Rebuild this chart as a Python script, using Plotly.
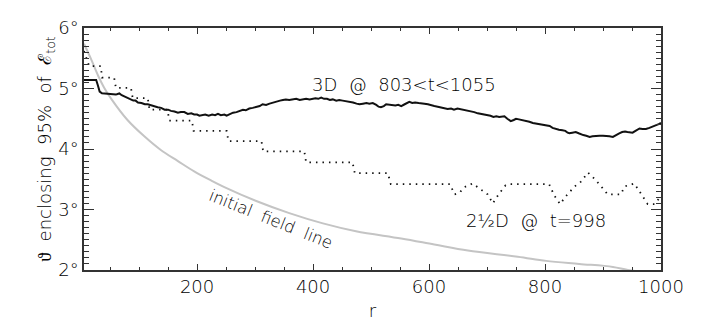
import plotly.graph_objects as go

# 3D @ 803<t<1055 (solid)
r_3d = [5, 26, 29, 32, 36, 44, 52, 60, 63, 66,
        70, 75, 80, 85, 90, 94, 98, 104, 110, 115,
        121, 127, 132, 138, 144, 150, 155, 161, 167, 172,
        178, 184, 190, 195, 200, 204, 209, 214, 220, 226,
        231, 236, 241, 247, 251, 256, 262, 268, 273, 279,
        284, 290, 296, 302, 308, 313, 319, 325, 331, 337,
        343, 348, 353, 359, 365, 371, 377, 382, 388, 394,
        399, 404, 409, 414, 419, 424, 429, 434, 440, 445,
        451, 457, 463, 469, 475, 480, 486, 492, 497, 503,
        509, 513, 517, 522, 526, 531, 537, 542, 547, 552,
        558, 563, 566, 571, 576, 582, 587, 592, 598, 604,
        609, 615, 621, 626, 632, 638, 643, 649, 655, 661,
        667, 672, 678, 684, 690, 695, 701, 706, 711, 716,
        721, 726, 730, 735, 741, 746, 750, 755, 761, 768,
        773, 779, 785, 791, 797, 802, 808, 813, 819, 824,
        830, 835, 839, 842, 847, 853, 858, 862, 866, 871,
        877, 882, 888, 894, 900, 905, 911, 917, 922, 928,
        933, 938, 942, 947, 951, 956, 960, 963, 968, 974,
        980, 986, 991, 996, 1000]
th_3d = [5.14, 5.14, 5.05, 4.95, 4.92, 4.91, 4.91, 4.90, 4.91, 4.92,
         4.89, 4.87, 4.84, 4.83, 4.80, 4.80, 4.77, 4.76, 4.74, 4.74,
         4.72, 4.71, 4.69, 4.68, 4.65, 4.65, 4.63, 4.62, 4.60, 4.61,
         4.61, 4.58, 4.59, 4.57, 4.57, 4.55, 4.56, 4.57, 4.55, 4.57,
         4.56, 4.58, 4.56, 4.57, 4.55, 4.57, 4.60, 4.61, 4.63, 4.65,
         4.64, 4.67, 4.68, 4.69, 4.71, 4.74, 4.73, 4.75, 4.77, 4.78,
         4.80, 4.81, 4.82, 4.81, 4.82, 4.83, 4.81, 4.82, 4.83, 4.82,
         4.83, 4.84, 4.83, 4.85, 4.83, 4.83, 4.81, 4.82, 4.80, 4.81,
         4.80, 4.79, 4.79, 4.77, 4.75, 4.74, 4.75, 4.76, 4.75, 4.76,
         4.73, 4.70, 4.69, 4.71, 4.74, 4.73, 4.73, 4.72, 4.73, 4.71,
         4.74, 4.77, 4.78, 4.76, 4.77, 4.76, 4.76, 4.75, 4.74, 4.72,
         4.71, 4.70, 4.69, 4.67, 4.66, 4.67, 4.65, 4.67, 4.66, 4.64,
         4.63, 4.62, 4.61, 4.59, 4.58, 4.56, 4.55, 4.55, 4.53, 4.54,
         4.53, 4.54, 4.54, 4.50, 4.46, 4.48, 4.50, 4.49, 4.48, 4.47,
         4.45, 4.43, 4.42, 4.42, 4.41, 4.40, 4.38, 4.35, 4.33, 4.32,
         4.31, 4.30, 4.27, 4.26, 4.27, 4.28, 4.26, 4.24, 4.23, 4.22,
         4.20, 4.21, 4.22, 4.22, 4.22, 4.22, 4.21, 4.20, 4.23, 4.26,
         4.28, 4.29, 4.28, 4.27, 4.27, 4.30, 4.33, 4.34, 4.33, 4.33,
         4.35, 4.37, 4.39, 4.41, 4.43]

# 2.5D @ t=998 (dotted)
r_2d = [5, 14, 34, 36, 57, 60, 86, 89, 115, 118,
        149, 152, 191, 194, 251, 254, 311, 314, 385, 388,
        468, 472, 529, 534, 636, 644, 652, 661, 675, 690,
        701, 710, 720, 732, 740, 807, 816, 826, 836, 851,
        862, 874, 885, 897, 908, 931, 937, 954, 966, 977,
        989, 1000]
th_2d = [5.62, 5.37, 5.37, 5.18, 5.18, 5.01, 5.01, 4.84, 4.84, 4.65,
         4.65, 4.47, 4.47, 4.30, 4.30, 4.13, 4.13, 3.96, 3.96, 3.78,
         3.78, 3.60, 3.60, 3.42, 3.42, 3.25, 3.27, 3.37, 3.43, 3.33,
         3.25, 3.10, 3.25, 3.40, 3.42, 3.42, 3.23, 3.09, 3.22, 3.38,
         3.46, 3.61, 3.51, 3.38, 3.25, 3.25, 3.38, 3.43, 3.25, 3.09,
         3.09, 3.22]

# initial field line (gray)
r_init = [5, 17, 29, 40, 52, 80, 109, 138, 167, 195, 224, 247, 302, 359,
          417, 474, 552, 609, 667, 753, 802, 859, 917, 943, 1000]
th_init = [5.74, 5.49, 5.22, 5.01, 4.83, 4.48, 4.21, 3.98, 3.80, 3.63, 3.48,
           3.37, 3.14, 2.94, 2.77, 2.64, 2.52, 2.42, 2.32, 2.22, 2.15, 2.10,
           2.05, 2.00, 1.93]

x_ticks = [200, 400, 600, 800, 1000]
y_ticks = [2, 3, 4, 5, 6]
y_labels = ["2°", "3°", "4°", "5°", "6°"]

assert len(r_3d) == len(th_3d) and len(r_2d) == len(th_2d) and len(r_init) == len(th_init)

FONT = "DejaVu Sans"
TXT = "#000000"
W = 200

fig = go.Figure()
fig.add_trace(go.Scatter(x=r_init, y=th_init, mode="lines", line_shape="spline",
                         line=dict(color="#c4c4c4", width=2), showlegend=False))
fig.add_trace(go.Scatter(x=r_2d, y=th_2d, mode="lines",
                         line=dict(color="#111111", width=1.8, dash="1.5px,5px"),
                         showlegend=False))
fig.add_trace(go.Scatter(x=r_3d, y=th_3d, mode="lines",
                         line=dict(color="#111111", width=2), showlegend=False))

fig.add_annotation(x=556, y=5.07, text="3D\u00a0\u00a0@\u00a0\u00a0803&lt;t&lt;1055",
                   showarrow=False, font=dict(size=18, color=TXT, family=FONT, weight=W))
fig.add_annotation(x=785, y=2.82, text="2\u00bdD\u00a0\u00a0@\u00a0\u00a0t=998",
                   showarrow=False, font=dict(size=18, color=TXT, family=FONT, weight=W))
fig.add_annotation(x=328, y=2.84, text="initial\u00a0\u00a0field\u00a0\u00a0line", textangle=22,
                   showarrow=False, font=dict(size=16.5, color=TXT, family=FONT, weight=W))

axis_common = dict(showgrid=False, zeroline=False, showline=True, linecolor="#333333",
                   linewidth=1.5, mirror="ticks", ticks="inside", tickcolor="#333333",
                   tickfont=dict(size=18, color=TXT, family=FONT, weight=W))

fig.update_xaxes(range=[5, 1000], tickvals=x_ticks, ticklen=6, tickwidth=1.2,
                 minor=dict(ticks="inside", dtick=50, tick0=0, ticklen=3, tickcolor="#333333", tickwidth=1),
                 title=dict(text="r", standoff=8, font=dict(size=18, color=TXT, family=FONT, weight=W)),
                 **axis_common)
fig.update_yaxes(range=[1.999, 6.001], tickvals=y_ticks, ticktext=y_labels, ticklen=10, tickwidth=1.2,
                 minor=dict(ticks="inside", dtick=0.1, tick0=2, ticklen=5, tickcolor="#333333", tickwidth=1),
                 title=dict(text="ϑ\u00a0\u00a0enclosing\u00a0\u00a095%\u00a0\u00a0of\u00a0\u00a0ℰ<sub>tot</sub>", standoff=2,
                            font=dict(size=18, color=TXT, family=FONT, weight=W)),
                 **axis_common)

fig.update_layout(width=707, height=320, margin=dict(l=76, r=54, t=9, b=58),
                  paper_bgcolor="white", plot_bgcolor="white",
                  font=dict(family=FONT, color=TXT))

fig.write_html("out.html")
